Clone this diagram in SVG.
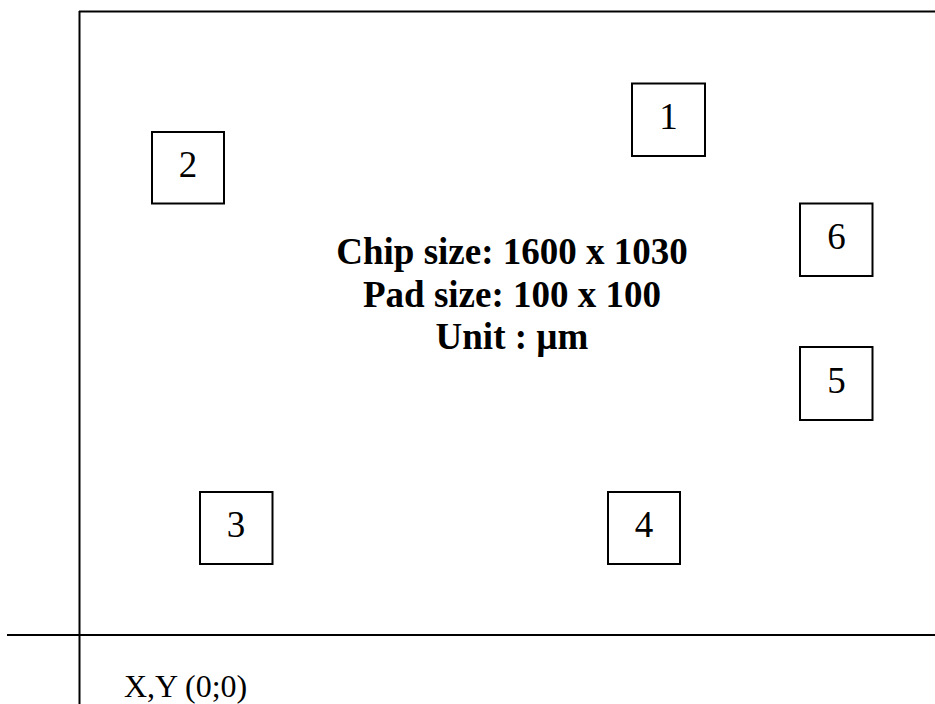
<svg xmlns="http://www.w3.org/2000/svg" width="935" height="704" viewBox="0 0 935 704">
<style>
.ln{stroke:#000;stroke-width:2;fill:none}
.pad{fill:#fff;stroke:#000;stroke-width:2}
.num{font-family:"Liberation Serif","Times New Roman",serif;font-size:37px;text-anchor:middle;fill:#000}
.info{font-family:"Liberation Serif","Times New Roman",serif;font-size:37px;font-weight:bold;text-anchor:middle;fill:#000}
.org{font-family:"Liberation Serif","Times New Roman",serif;font-size:32px;fill:#000}
</style>
<rect width="935" height="704" fill="#fff"/>
<g id="axes">
<line class="ln" x1="79.5" y1="11" x2="79.5" y2="704"/>
<line class="ln" x1="79" y1="11.5" x2="935" y2="11.5"/>
<line class="ln" x1="7" y1="635" x2="935" y2="635"/>
</g>
<g id="pad1"><rect class="pad" x="632" y="83.5" width="73" height="72.5"/><text class="num" x="668.5" y="129">1</text></g>
<g id="pad2"><rect class="pad" x="152" y="132" width="72" height="71.5"/><text class="num" x="188" y="177">2</text></g>
<g id="pad3"><rect class="pad" x="200" y="492" width="72.5" height="72"/><text class="num" x="236" y="537">3</text></g>
<g id="pad4"><rect class="pad" x="608" y="492" width="72" height="72"/><text class="num" x="644" y="537">4</text></g>
<g id="pad5"><rect class="pad" x="800" y="347" width="72.5" height="73"/><text class="num" x="836.5" y="393">5</text></g>
<g id="pad6"><rect class="pad" x="800" y="203.5" width="72.5" height="72.5"/><text class="num" x="836.5" y="249">6</text></g>
<g id="info">
<text class="info" x="512" y="264">Chip size: 1600 x 1030</text>
<text class="info" x="512" y="307">Pad size: 100 x 100</text>
<text class="info" x="512" y="349">Unit : µm</text>
</g>
<g id="connectors"></g>
<text class="org" x="124" y="697">X,Y (0;0)</text>
</svg>
